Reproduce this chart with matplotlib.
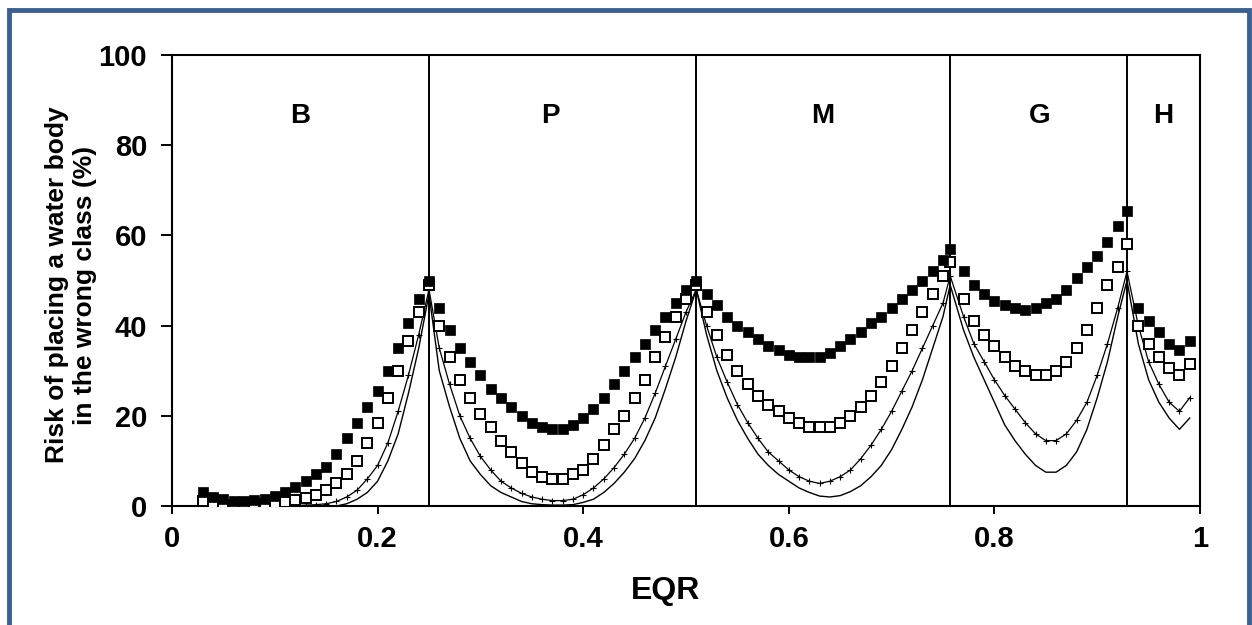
import numpy as np
import matplotlib
matplotlib.use("Agg")
import matplotlib.pyplot as plt
from matplotlib.patches import Rectangle

plt.rcParams['font.family'] = ['Liberation Sans', 'DejaVu Sans']
plt.rcParams['font.weight'] = 'bold'

# EQR sampling positions (class boundaries at 0.25, 0.51, 0.757, 0.929)
x_sq = ([round(0.03 + 0.01 * i, 2) for i in range(73)] + [0.757] +
        [round(0.77 + 0.01 * i, 2) for i in range(16)] + [0.929] +
        [round(0.94 + 0.01 * i, 2) for i in range(6)])
x_ln = x_sq[7:]

boundaries = [0.25, 0.51, 0.757, 0.929]
class_labels = ['B', 'P', 'M', 'G', 'H']
class_label_x = [0.125, 0.368, 0.633, 0.844, 0.964]

filled_sq = ([3, 2, 1.5, 1.2, 1.2, 1.3, 1.5, 2.2, 3, 4.2, 5.5, 7, 8.7, 11.5, 15, 18.5, 22, 25.5, 30, 35, 40.5, 46, 50] +
             [44, 39, 35, 32, 29, 26, 24, 22, 20, 18.5, 17.5, 17, 17, 18, 19.5, 21.5, 24, 27, 30, 33, 36, 39, 42, 45, 48, 50] +
             [47, 44.5, 42, 40, 38.5, 37, 35.5, 34.5, 33.5, 33, 33, 33, 34, 35.5, 37, 38.5, 40.5, 42, 44, 46, 48, 50, 52, 54.5, 57] +
             [52, 49, 47, 45.5, 44.5, 44, 43.5, 44, 45, 46, 48, 50.5, 53, 55.5, 58.5, 62, 65.5] +
             [44, 41, 38.5, 36, 34.5, 36.5])
open_sq = ([1, 0.5, 0.3, 0.3, 0.3, 0.3, 0.4, 0.6, 0.9, 1.3, 1.8, 2.5, 3.5, 5, 7, 10, 14, 18.5, 24, 30, 36.5, 43, 49] +
           [40, 33, 28, 24, 20.5, 17.5, 14.5, 12, 9.5, 7.5, 6.5, 6, 6, 7, 8, 10.5, 13.5, 17, 20, 24, 28, 33, 37.5, 42, 46, 49] +
           [43, 38, 33.5, 30, 27, 24.5, 22.5, 21, 19.5, 18.5, 17.5, 17.5, 17.5, 18.5, 20, 22, 24.5, 27.5, 31, 35, 39, 43, 47, 51, 54] +
           [46, 41, 38, 35.5, 33, 31, 30, 29, 29, 30, 32, 35, 39, 44, 49, 53, 58] +
           [40, 36, 33, 30.5, 29, 31.5])
cross_series = ([0, 0, 0.1, 0.2, 0.3, 0.5, 1, 2, 3.5, 6, 9, 14, 21, 29, 38, 48] +
                [35, 27, 20, 15, 11, 8, 5.5, 4, 2.8, 2, 1.5, 1.2, 1.2, 1.5, 2.5, 4, 6, 8.5, 11.5, 15, 19.5, 25, 31, 37, 43, 48] +
                [40, 33, 27.5, 22.5, 18.5, 15, 12, 10, 8, 6.5, 5.5, 5, 5.5, 6.5, 8, 10.5, 13.5, 17, 21, 25.5, 30, 35, 40, 45, 51] +
                [42, 36, 32, 28, 24.5, 21.5, 18.5, 16, 14.5, 14.5, 16, 19, 23, 29, 36, 44, 52] +
                [40, 32, 27, 23, 21, 24])
line_series = ([0, 0, 0, 0, 0, 0, 0, 0.5, 1.5, 3, 5.5, 10, 16, 25, 35, 47] +
               [30, 22, 15, 10, 7, 4.5, 3, 2, 1, 0.5, 0.3, 0.2, 0.2, 0.3, 0.8, 1.5, 3, 5, 7.5, 10.5, 14.5, 19.5, 26, 33, 41, 48] +
               [38, 30, 24, 19, 15, 11.5, 9, 7, 5.5, 4, 3, 2.2, 2, 2.3, 3.2, 4.5, 6.5, 9, 12.5, 17, 22, 28, 35, 42, 49] +
               [39, 33, 28, 23, 18, 14.5, 11.5, 9, 7.5, 7.5, 9, 12, 17, 24, 32, 42, 50] +
               [36, 28, 23, 19.5, 17, 19.5])

fig = plt.figure(figsize=(12.52, 6.25), dpi=100)
ax = fig.add_axes([172 / 1252, 1 - 506 / 625, 1028 / 1252, 451 / 625])

ax.plot(x_ln, line_series, color='black', lw=1.0, zorder=2)
ax.plot(x_ln, cross_series, color='black', lw=0.9, marker='+', ms=4, mew=0.8, zorder=3)
ax.plot(x_sq, open_sq, ls='none', marker='s', ms=6.5, mfc='white', mec='black', mew=1.4, zorder=4)
ax.plot(x_sq, filled_sq, ls='none', marker='s', ms=7.2, mfc='black', mec='black', mew=0.5, zorder=5)

for b in boundaries:
    ax.axvline(b, color='black', lw=1.4, zorder=1)
for lab, lx in zip(class_labels, class_label_x):
    ax.text(lx, 86.5, lab, ha='center', va='center', fontsize=20, fontweight='bold')

ax.set_xlim(0, 1)
ax.set_ylim(0, 100)
ax.set_xticks([0, 0.2, 0.4, 0.6, 0.8, 1])
ax.set_xticklabels(['0', '0.2', '0.4', '0.6', '0.8', '1'])
ax.set_yticks([0, 20, 40, 60, 80, 100])
ax.tick_params(axis='x', direction='out', length=6, width=1.4, labelsize=21, pad=8)
ax.tick_params(axis='y', direction='out', length=8, width=1.4, labelsize=21, pad=10)
for lbl in ax.get_xticklabels() + ax.get_yticklabels():
    lbl.set_fontweight('bold')
for s in ax.spines.values():
    s.set_linewidth(1.5)

ax.set_xlabel('EQR', fontsize=23, fontweight='bold')
ax.xaxis.set_label_coords(0.48, -0.155)
ax.set_ylabel('Risk of placing a water body\nin the wrong class (%)', fontsize=19, fontweight='bold',
              linespacing=1.2)
ax.yaxis.set_label_coords(-0.073, 0.49)

frame = Rectangle((8.5 / 1252, -0.1), (1249 - 8.5) / 1252, 1.1 - 10.5 / 625,
                  transform=fig.transFigure, fill=False, edgecolor='#3b6193', lw=3.5, clip_on=False)
fig.patches.append(frame)

fig.savefig('out.png', dpi=100)
